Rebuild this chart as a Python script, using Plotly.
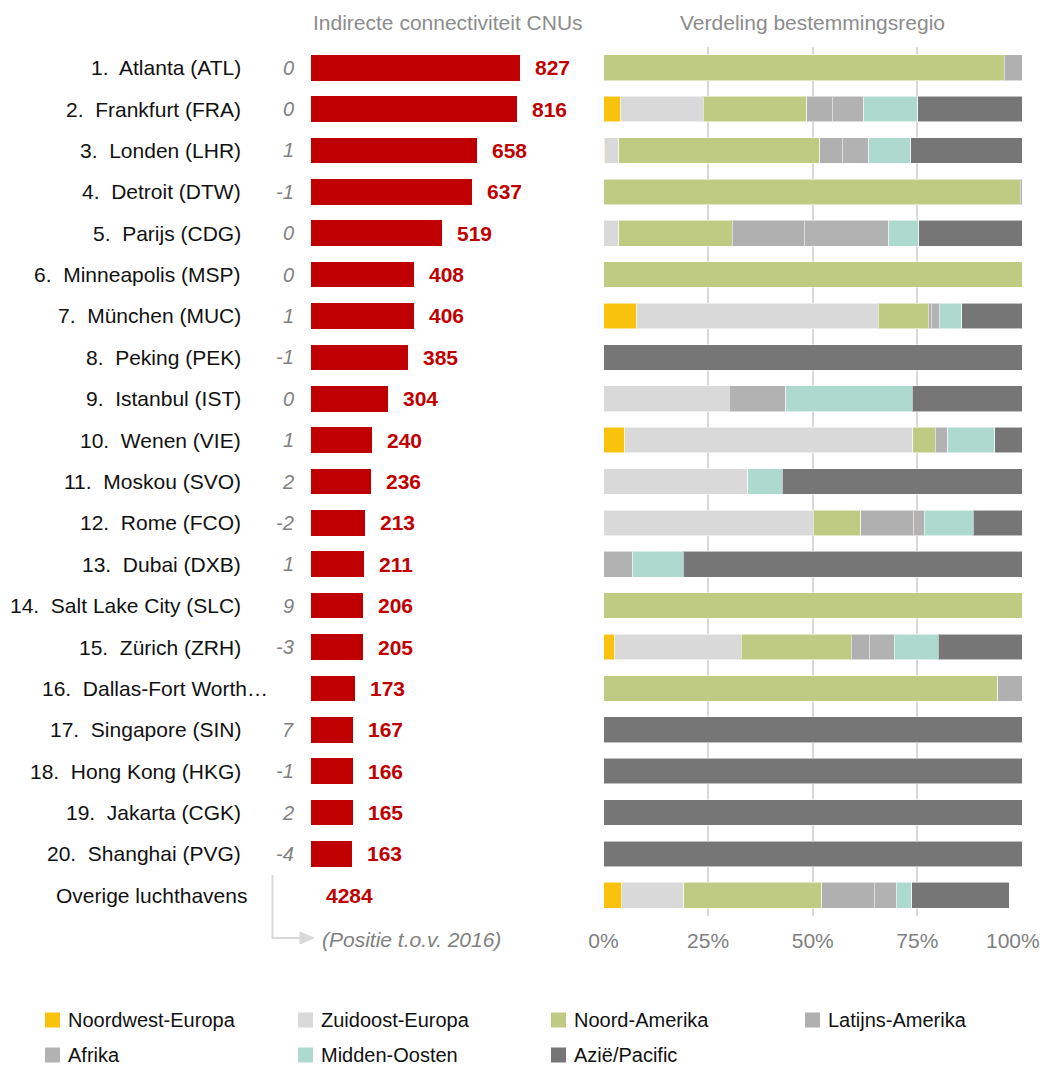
import plotly.graph_objects as go

# The page body has an 8px margin; positions below are given in window pixels
OFF = 8
W, H = 1051, 1066

labels = [
    "1.\u00a0 Atlanta (ATL)", "2.\u00a0 Frankfurt (FRA)", "3.\u00a0 Londen (LHR)", "4.\u00a0 Detroit (DTW)",
    "5.\u00a0 Parijs (CDG)", "6.\u00a0 Minneapolis (MSP)", "7.\u00a0 München (MUC)", "8.\u00a0 Peking (PEK)",
    "9.\u00a0 Istanbul (IST)", "10.\u00a0 Wenen (VIE)", "11.\u00a0 Moskou (SVO)", "12.\u00a0 Rome (FCO)",
    "13.\u00a0 Dubai (DXB)", "14.\u00a0 Salt Lake City (SLC)", "15.\u00a0 Zürich (ZRH)",
    "16.\u00a0 Dallas-Fort Worth…", "17.\u00a0 Singapore (SIN)", "18.\u00a0 Hong Kong (HKG)",
    "19.\u00a0 Jakarta (CGK)", "20.\u00a0 Shanghai (PVG)", "Overige luchthavens",
]
position_change = ["0", "0", "1", "-1", "0", "0", "1", "-1", "0", "1", "2", "-2", "1", "9", "-3",
                   "", "7", "-1", "2", "-4", ""]
connectivity = [827, 816, 658, 637, 519, 408, 406, 385, 304, 240, 236, 213, 211, 206, 205,
                173, 167, 166, 165, 163, 4284]

regions = ["Noordwest-Europa", "Zuidoost-Europa", "Noord-Amerika", "Latijns-Amerika",
           "Afrika", "Midden-Oosten", "Azië/Pacific"]
region_colors = ["#F9C20C", "#D9D9D9", "#BFCA83", "#B0B0B0", "#B2B2B2", "#ADD9CF", "#767676"]

noordwest_europa = [0, 4.1, 0.3, 0, 0, 0, 8.0, 0, 0, 5.1, 0, 0, 0, 0, 2.7, 0, 0, 0, 0, 0, 4.4]
zuidoost_europa = [0, 19.7, 3.4, 0, 3.7, 0, 57.6, 0, 30.0, 68.8, 34.5, 50.1, 0, 0, 30.2, 0, 0, 0, 0, 0, 14.8]
noord_amerika = [95.8, 24.8, 48.0, 99.6, 27.1, 100, 12.0, 0, 0, 5.4, 0, 11.4, 0, 100, 26.3, 94.2, 0, 0, 0, 0, 33.0]
latijns_amerika = [4.2, 6.1, 5.4, 0.4, 17.2, 0, 0.7, 0, 0, 0, 0, 12.5, 0, 0, 4.3, 5.8, 0, 0, 0, 0, 12.5]
afrika = [0, 7.5, 6.3, 0, 20.2, 0, 1.9, 0, 13.6, 3.0, 0, 2.6, 7.0, 0, 6.0, 0, 0, 0, 0, 0, 5.2]
midden_oosten = [0, 12.9, 10.0, 0, 7.1, 0, 5.4, 0, 30.2, 11.2, 8.2, 11.7, 12.1, 0, 10.5, 0, 0, 0, 0, 0, 3.7]
azie_pacific = [0, 24.9, 26.6, 0, 24.7, 0, 14.4, 100, 26.2, 6.5, 57.3, 11.7, 80.9, 0, 20.0, 0, 100, 100, 100, 100, 23.3]
region_values = [noordwest_europa, zuidoost_europa, noord_amerika, latijns_amerika,
                 afrika, midden_oosten, azie_pacific]

pct_ticks = [0, 25, 50, 75, 100]
pct_ticktext = ["0%", "25%", "50%", "75%", "100%"]

FONT = "Arial, Liberation Sans, sans-serif"
RED = "#C00000"
GRAY = "#808080"


def px(x):
    return (x - OFF) / W


def py(y):
    return 1 - (y - OFF) / H


fig = go.Figure()

# Left: connectivity bars (ranked airports only)
fig.add_trace(go.Bar(
    x=connectivity[:20], y=labels[:20], orientation="h",
    marker=dict(color=RED, line=dict(width=0)),
    xaxis="x2", yaxis="y", showlegend=False, hoverinfo="x+y",
))

# Right: distribution of destinations (stacked 100%)
for name, color, vals in zip(regions, region_colors, region_values):
    fig.add_trace(go.Bar(
        x=vals, y=labels, orientation="h", name=name,
        marker=dict(color=color, line=dict(width=1, color="rgba(255,255,255,0.55)")),
        xaxis="x", yaxis="y", showlegend=False,
    ))

annotations = []
# Airport labels
for i, lab in enumerate(labels):
    right = 243
    if lab.startswith("16."):
        right = 270
    elif lab.startswith("Overige"):
        right = 249
    annotations.append(dict(
        x=px(right), xref="paper", y=lab, yref="y", text=lab, showarrow=False,
        xanchor="right", yanchor="middle", font=dict(family=FONT, size=21, color="#111111"),
    ))
# Position changes
for lab, ch in zip(labels, position_change):
    if ch:
        annotations.append(dict(
            x=px(296), xref="paper", y=lab, yref="y", text=f"<i>{ch}</i>", showarrow=False,
            xanchor="right", yanchor="middle", font=dict(family=FONT, size=20, color=GRAY),
        ))
# Values
for i, (lab, v) in enumerate(zip(labels, connectivity)):
    xv = v if i < 20 else 0
    annotations.append(dict(
        x=xv, xref="x2", y=lab, yref="y", text=f"<b>{v}</b>", showarrow=False,
        xanchor="left", yanchor="middle", xshift=13,
        font=dict(family=FONT, size=21, color=RED),
    ))
# Last percentage tick label, kept fully inside the visible window
annotations.append(dict(
    x=pct_ticks[-1], xref="x", y=py(940), yref="paper", text=pct_ticktext[-1], showarrow=False,
    xanchor="right", yanchor="middle", xshift=20,
    font=dict(family=FONT, size=21, color=GRAY),
))
# Titles
annotations.append(dict(x=px(448), y=py(22), xref="paper", yref="paper", text="Indirecte connectiviteit CNUs",
                        showarrow=False, xanchor="center", yanchor="middle",
                        font=dict(family=FONT, size=21, color="#8C8C8C")))
annotations.append(dict(x=px(812), y=py(22), xref="paper", yref="paper", text="Verdeling bestemmingsregio",
                        showarrow=False, xanchor="center", yanchor="middle",
                        font=dict(family=FONT, size=21, color="#8C8C8C")))
# Footnote
annotations.append(dict(x=px(320), y=py(939), xref="paper", yref="paper", text="<i>(Positie t.o.v. 2016)</i>",
                        showarrow=False, xanchor="left", yanchor="middle",
                        font=dict(family=FONT, size=21, color=GRAY)))

shapes = [
    dict(type="path", xref="paper", yref="paper",
         path=f"M {px(272.5)},{py(875)} L {px(272.5)},{py(938)} L {px(302)},{py(938)}",
         line=dict(color="#D9D9D9", width=2)),
    dict(type="path", xref="paper", yref="paper",
         path=f"M {px(300)},{py(932)} L {px(314)},{py(938)} L {px(300)},{py(944)} Z",
         fillcolor="#D9D9D9", line=dict(color="#D9D9D9", width=1)),
]

# Legend (manual, two rows of four columns)
leg_cols = [45, 298, 551, 805]
leg_rows = [1020, 1055]
for k, (name, color) in enumerate(zip(regions, region_colors)):
    cx = leg_cols[k % 4]
    cy = leg_rows[k // 4]
    shapes.append(dict(type="rect", xref="paper", yref="paper",
                       x0=px(cx), x1=px(cx + 15), y0=py(cy + 7.5), y1=py(cy - 7.5),
                       fillcolor=color, line=dict(width=0)))
    annotations.append(dict(x=px(cx + 21), y=py(cy), xref="paper", yref="paper", text=name,
                            showarrow=False, xanchor="left", yanchor="middle",
                            font=dict(family=FONT, size=20, color="#111111")))

fig.update_layout(
    template="none",
    width=W, height=H,
    autosize=False,
    margin=dict(l=0, r=0, t=0, b=0, pad=0, autoexpand=False),
    paper_bgcolor="white", plot_bgcolor="white",
    barmode="stack", bargap=0.38,
    showlegend=False,
    font=dict(family=FONT),
    yaxis=dict(
        type="category", categoryorder="array", categoryarray=labels,
        range=[20.5, -0.5], domain=[py(916), py(47)], automargin=False,
        showticklabels=False, showgrid=False, zeroline=False, showline=False, ticks="",
    ),
    xaxis=dict(
        domain=[px(603.5), px(1022)], range=[0, 100], anchor="y", automargin=False,
        tickvals=pct_ticks, ticktext=pct_ticktext[:-1] + [""],
        showgrid=True, gridcolor="#D9D9D9", gridwidth=2, zeroline=False, showline=False,
        ticks="outside", ticklen=6, tickcolor="rgba(0,0,0,0)",
        tickfont=dict(family=FONT, size=21, color=GRAY),
    ),
    xaxis2=dict(
        domain=[px(311), px(600)], range=[0, (600 - 311) / (520 - 311) * 827], anchor="y", automargin=False,
        visible=False, showgrid=False, zeroline=False,
    ),
    annotations=annotations,
    shapes=shapes,
)

fig.write_html("out.html")
